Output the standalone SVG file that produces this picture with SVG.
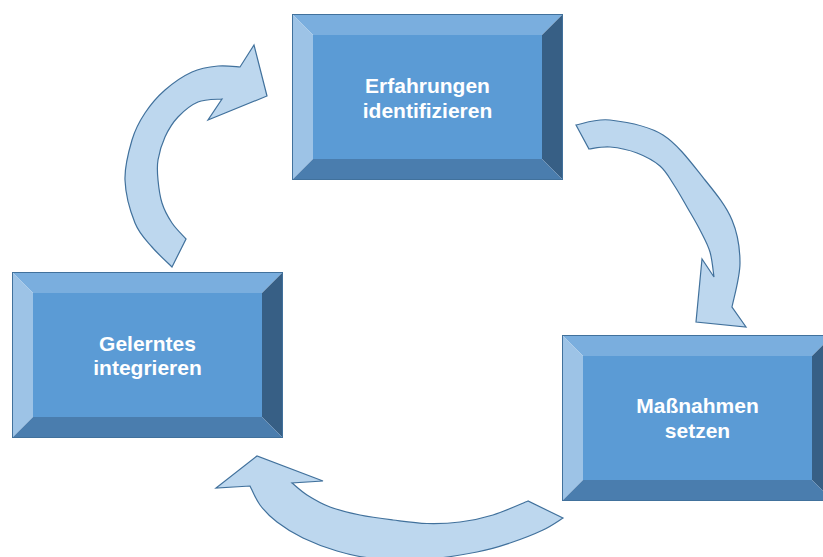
<svg xmlns="http://www.w3.org/2000/svg" xmlns:xlink="http://www.w3.org/1999/xlink" width="823" height="557" viewBox="0 0 823 557">
  <style>
    .face-top { fill: #7AAEDE; }
    .face-left { fill: #9DC3E6; }
    .face-right { fill: #375F85; }
    .face-bottom { fill: #4A7DAE; }
    .face-front { fill: #5B9BD5; }
    .edge { fill: none; stroke: #41719C; stroke-width: 1; }
    .label { font-family: "Liberation Sans", Arial, sans-serif; font-weight: bold; font-size: 21px; fill: #FFFFFF; text-anchor: middle; }
    .cycle-arrow { fill: #BDD7EE; stroke: #41719C; stroke-width: 1.2; stroke-linejoin: miter; }
  </style>
  <defs>
    <!-- Bevelled box, 271 x 166 with a 21 px bevel -->
    <g id="bevel-box">
      <polygon class="face-top" points="0,0 271,0 250,21 21,21"/>
      <polygon class="face-left" points="0,0 21,21 21,145 0,166"/>
      <polygon class="face-right" points="271,0 271,166 250,145 250,21"/>
      <polygon class="face-bottom" points="0,166 21,145 250,145 271,166"/>
      <rect class="face-front" x="21" y="21" width="229" height="124"/>
      <rect class="edge" x="0.5" y="0.5" width="270" height="165"/>
    </g>
  </defs>

  <rect width="823" height="557" fill="#FFFFFF"/>

  <!-- Curved arrows of the cycle -->
  <g id="connectors">
    <path id="arrow-identify-to-act" class="cycle-arrow" d="M576,125 C581.7,124.2 595.5,118.3 610,120 C624.5,121.7 647.2,125 663,135 C678.8,145 693.5,165.8 705,180 C716.5,194.2 726.2,206.2 732,220 C737.8,233.8 740,248.5 740,263 C740,277.5 733.3,299.7 732,307 L746,327 L696,322 L702,259 L714,277 C713.3,272.8 712.3,259.8 710,252 C707.7,244.2 703.8,237.5 700,230 C696.2,222.5 691.3,214.5 687,207 C682.7,199.5 678.5,191.8 674,185 C669.5,178.2 666.2,171.3 660,166 C653.8,160.7 645.3,156.2 637,153 C628.7,149.8 618,147.7 610,147 C602,146.3 592.5,148.7 589,149 Z"/>
    <path id="arrow-act-to-integrate" class="cycle-arrow" d="M528,501 C522.2,503.3 504.3,511.5 493,515 C481.7,518.5 471,520.6 460,522 C449,523.4 438.2,523.8 427,523.5 C415.8,523.2 404.2,521.4 393,520 C381.8,518.6 370.5,517.2 360,515 C349.5,512.8 338.8,510.3 330,507 C321.2,503.7 313.3,499 307,495 C300.7,491 294.5,485 292,483 L323,481 L257,456 L216,488 L250,486 C251.7,489.2 255.5,499 260,505 C264.5,511 269.8,516.5 277,522 C284.2,527.5 293,533.2 303,538 C313,542.8 325.8,547.7 337,551 C348.2,554.3 356.2,556.5 370,558 C383.8,559.5 402.2,561 420,560 C437.8,559 462,554.8 477,552 C492,549.2 499,546.7 510,543 C521,539.3 534.2,534.2 543,530 C551.8,525.8 559.7,520 563,518 Z"/>
    <path id="arrow-integrate-to-identify" class="cycle-arrow" d="M186,239 C183.7,236.3 176,229 172,223 C168,217 164.3,210.2 162,203 C159.7,195.8 158.7,187.2 158,180 C157.3,172.8 156.8,167.2 158,160 C159.2,152.8 161.7,144.2 165,137 C168.3,129.8 172.5,122.8 178,117 C183.5,111.2 190.7,105 198,102 C205.3,99 218,99.5 222,99 L208,120 L267,96 L254,45 L240,67 C236.3,66.8 226,65.2 218,66 C210,66.8 200.8,68 192,72 C183.2,76 172.8,83.2 165,90 C157.2,96.8 150.5,104.7 145,113 C139.5,121.3 135.3,128.8 132,140 C128.7,151.2 124.5,166.2 125,180 C125.5,193.8 130.5,211.8 135,223 C139.5,234.2 145.8,239.7 152,247 C158.2,254.3 168.7,263.7 172,267 Z"/>
  </g>

  <!-- Nodes -->
  <g id="node-erfahrungen">
    <use xlink:href="#bevel-box" href="#bevel-box" x="292" y="14"/>
    <text class="label" x="427.5" y="93">Erfahrungen</text>
    <text class="label" x="427.5" y="118">identifizieren</text>
  </g>

  <g id="node-massnahmen">
    <use xlink:href="#bevel-box" href="#bevel-box" x="562" y="335"/>
    <text class="label" x="697.5" y="413">Maßnahmen</text>
    <text class="label" x="697.5" y="438">setzen</text>
  </g>

  <g id="node-gelerntes">
    <use xlink:href="#bevel-box" href="#bevel-box" x="12" y="272"/>
    <text class="label" x="147.5" y="351">Gelerntes</text>
    <text class="label" x="147.5" y="375">integrieren</text>
  </g>
</svg>
